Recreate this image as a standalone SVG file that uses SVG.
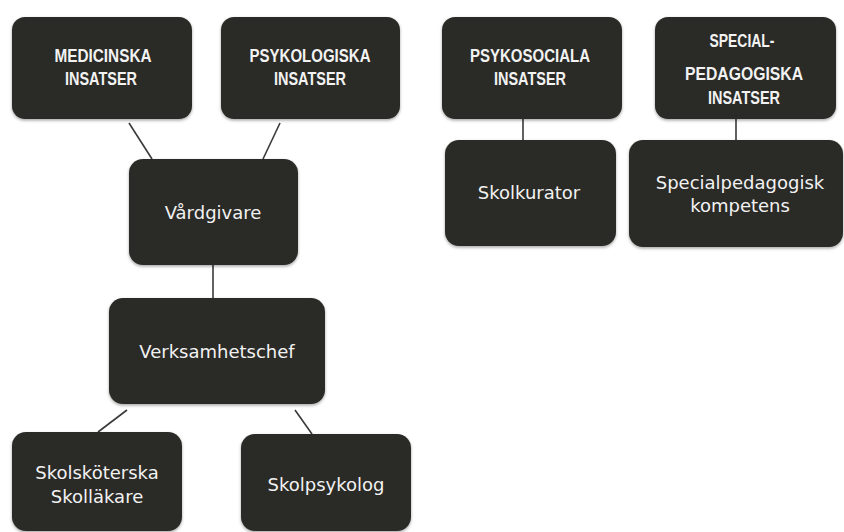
<svg xmlns="http://www.w3.org/2000/svg" width="844" height="532" viewBox="0 0 844 532">
<defs>
<filter id="sh" x="-10%" y="-10%" width="120%" height="125%">
<feDropShadow dx="0" dy="1.5" stdDeviation="1.5" flood-color="#000" flood-opacity="0.35"/>
</filter>
</defs>
<style>
.box{fill:#2c2a26;filter:url(#sh)}
.hd{font-family:"Liberation Sans",Arial,sans-serif;font-weight:bold;font-size:18.5px;fill:#f2f2f2;text-anchor:middle}
.tx{font-family:"DejaVu Sans",sans-serif;font-size:18px;fill:#f2f2f2;text-anchor:middle}
.ln{stroke:#3a3a3a;stroke-width:1.6;fill:none}
</style>
<rect width="844" height="532" fill="#ffffff"/>
<g id="connectors">
<line class="ln" x1="129" y1="123" x2="152" y2="159"/>
<line class="ln" x1="280" y1="123" x2="263" y2="159"/>
<line class="ln" x1="213" y1="265" x2="213" y2="298"/>
<line class="ln" x1="127" y1="410" x2="98" y2="432"/>
<line class="ln" x1="295" y1="410" x2="312" y2="434"/>
<line class="ln" x1="523" y1="119" x2="523" y2="140"/>
<line class="ln" x1="736" y1="119" x2="736" y2="140"/>
</g>
<g id="medicinska">
<rect class="box" x="12" y="17" width="180" height="102" rx="13"/>
<text class="hd" x="103" y="62" textLength="97" lengthAdjust="spacingAndGlyphs">MEDICINSKA</text>
<text class="hd" x="101" y="85" textLength="72" lengthAdjust="spacingAndGlyphs">INSATSER</text>
</g>
<g id="psykologiska">
<rect class="box" x="221" y="17" width="179" height="102" rx="13"/>
<text class="hd" x="310" y="62" textLength="121" lengthAdjust="spacingAndGlyphs">PSYKOLOGISKA</text>
<text class="hd" x="310" y="85" textLength="72" lengthAdjust="spacingAndGlyphs">INSATSER</text>
</g>
<g id="psykosociala">
<rect class="box" x="442" y="17" width="180" height="102" rx="13"/>
<text class="hd" x="530" y="62" textLength="120" lengthAdjust="spacingAndGlyphs">PSYKOSOCIALA</text>
<text class="hd" x="530" y="85" textLength="72" lengthAdjust="spacingAndGlyphs">INSATSER</text>
</g>
<g id="specialpedagogiska">
<rect class="box" x="655" y="17" width="181" height="102" rx="13"/>
<text class="hd" x="742" y="47" textLength="65" lengthAdjust="spacingAndGlyphs">SPECIAL-</text>
<text class="hd" x="744" y="80" textLength="118" lengthAdjust="spacingAndGlyphs">PEDAGOGISKA</text>
<text class="hd" x="744" y="104" textLength="72" lengthAdjust="spacingAndGlyphs">INSATSER</text>
</g>
<g id="vardgivare">
<rect class="box" x="129" y="159" width="169" height="106" rx="14"/>
<text class="tx" x="213" y="219">Vårdgivare</text>
</g>
<g id="verksamhetschef">
<rect class="box" x="109" y="298" width="216" height="106" rx="14"/>
<text class="tx" x="217" y="358">Verksamhetschef</text>
</g>
<g id="skolskoterska">
<rect class="box" x="12" y="432" width="170" height="99" rx="14"/>
<text class="tx" x="97" y="479">Skolsköterska</text>
<text class="tx" x="97" y="503">Skolläkare</text>
</g>
<g id="skolpsykolog">
<rect class="box" x="241" y="434" width="170" height="97" rx="14"/>
<text class="tx" x="326" y="491">Skolpsykolog</text>
</g>
<g id="skolkurator">
<rect class="box" x="445" y="140" width="171" height="106" rx="14"/>
<text class="tx" x="529" y="199">Skolkurator</text>
</g>
<g id="specialpedagogisk">
<rect class="box" x="629" y="140" width="214" height="107" rx="14"/>
<text class="tx" x="740" y="189">Specialpedagogisk</text>
<text class="tx" x="740" y="212">kompetens</text>
</g>
</svg>
